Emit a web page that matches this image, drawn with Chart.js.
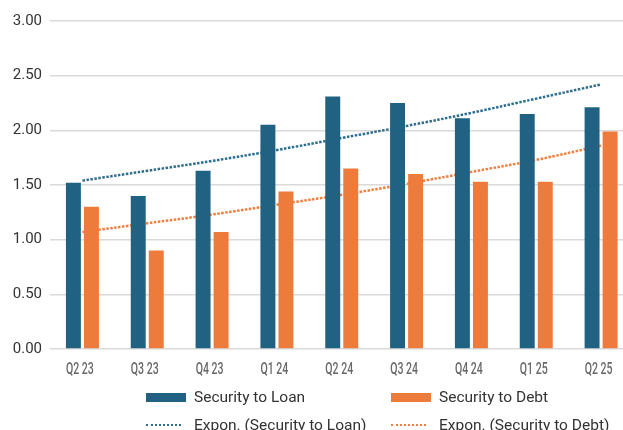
<!DOCTYPE html>
<html>
<head>
<meta charset="utf-8">
<script src="https://cdn.jsdelivr.net/npm/chart.js@4/dist/chart.umd.min.js"></script>
<style>
  html, body { margin: 0; padding: 0; background: #ffffff; overflow: hidden; }
  #wrap { position: absolute; left: 0; top: 0; width: 640px; height: 430px; }
  .legend { position: absolute; font-family: Roboto, "Noto Sans", sans-serif; font-size: 15.5px; color: #333333; }
  .item { position: absolute; display: flex; align-items: center; white-space: nowrap; height: 20px; }
  .box { display: inline-block; width: 40px; height: 9px; margin-right: 8px; }
  .dots { display: inline-block; width: 35px; height: 0; border-top: 2px dotted; margin-right: 13px; }
</style>
</head>
<body>
<div id="wrap"><canvas id="chart"></canvas></div>
<div class="legend" id="legend"></div>
<script>
// Quarter labels along the x axis
const categories = ['Q2 23', 'Q3 23', 'Q4 23', 'Q1 24', 'Q2 24', 'Q3 24', 'Q4 24', 'Q1 25', 'Q2 25'];

// Coverage ratios per quarter
const securityToLoan = [1.52, 1.40, 1.63, 2.05, 2.31, 2.25, 2.11, 2.15, 2.21];
const securityToDebt = [1.30, 0.90, 1.07, 1.44, 1.65, 1.60, 1.53, 1.53, 1.99];

// Exponential trend values per quarter
const loanTrend = [1.54, 1.63, 1.72, 1.82, 1.93, 2.04, 2.16, 2.29, 2.42];
const debtTrend = [1.07, 1.15, 1.23, 1.32, 1.41, 1.51, 1.62, 1.73, 1.86];

// Series names
const seriesNames = ['Security to Loan', 'Security to Debt', 'Expon. (Security to Loan)', 'Expon. (Security to Debt)'];

const BLUE = '#216283';
const ORANGE = '#ed7b3c';
const BLUE_TREND = '#2d6e8f';
const ORANGE_TREND = '#f07f3f';

// Condensed quarter labels under the bars
const condensedLabels = {
  id: 'condensedLabels',
  afterDraw(chart) {
    const ctx = chart.ctx;
    const xs = chart.scales.x;
    ctx.save();
    ctx.fillStyle = '#686868';
    ctx.font = '500 17px Roboto, "Noto Sans", sans-serif';
    ctx.textAlign = 'center';
    ctx.textBaseline = 'middle';
    categories.forEach((lab, i) => {
      ctx.save();
      ctx.translate(xs.getPixelForTick(i) - 2.5, xs.top + 21);
      ctx.scale(0.62, 1);
      ctx.fillText(lab, 0, 0);
      ctx.restore();
    });
    ctx.restore();
  }
};

new Chart(document.getElementById('chart'), {
  type: 'bar',
  data: {
    labels: categories,
    datasets: [
      { label: seriesNames[0], data: securityToLoan, backgroundColor: BLUE, order: 0,
        categoryPercentage: 0.556, barPercentage: 0.83 },
      { label: seriesNames[1], data: securityToDebt, backgroundColor: ORANGE, order: 0,
        categoryPercentage: 0.556, barPercentage: 0.83 },
      { type: 'line', label: seriesNames[2], data: loanTrend, borderColor: BLUE_TREND,
        borderWidth: 2.5, borderDash: [2.5, 1.5], pointRadius: 0, tension: 0.4, fill: false, order: 1 },
      { type: 'line', label: seriesNames[3], data: debtTrend, borderColor: ORANGE_TREND,
        borderWidth: 2.5, borderDash: [2.5, 1.5], pointRadius: 0, tension: 0.4, fill: false, order: 1 }
    ]
  },
  options: {
    responsive: true,
    maintainAspectRatio: false,
    animation: false,
    layout: { padding: { left: 0, right: 6.5, top: 21, bottom: 0 } },
    plugins: { legend: { display: false }, tooltip: { enabled: false } },
    scales: {
      x: {
        grid: { display: false, drawTicks: false },
        border: { display: false },
        ticks: { display: false },
        afterFit: s => { s.height = 81; }
      },
      y: {
        min: 0, max: 3,
        grid: { color: '#dadada', lineWidth: 1.5, drawTicks: false },
        border: { display: false },
        ticks: {
          stepSize: 0.5,
          color: '#333333',
          padding: 8,
          font: { family: 'Roboto, "Noto Sans", sans-serif', size: 15 },
          callback: v => Number(v).toFixed(2)
        },
        afterFit: s => { s.width = 50; }
      }
    }
  },
  plugins: [condensedLabels]
});

// Two-column legend below the axis
const legendItems = [
  { text: seriesNames[0], kind: 'box', color: BLUE, x: 146, y: 387 },
  { text: seriesNames[1], kind: 'box', color: ORANGE, x: 391, y: 387 },
  { text: seriesNames[2], kind: 'dots', color: BLUE_TREND, x: 146, y: 415 },
  { text: seriesNames[3], kind: 'dots', color: ORANGE_TREND, x: 391, y: 415 }
];
const legend = document.getElementById('legend');
legendItems.forEach(it => {
  const row = document.createElement('div');
  row.className = 'item';
  row.style.left = it.x + 'px';
  row.style.top = it.y + 'px';
  const sw = document.createElement('span');
  sw.className = it.kind;
  if (it.kind === 'box') sw.style.background = it.color; else sw.style.borderTopColor = it.color;
  const label = document.createElement('span');
  label.textContent = it.text;
  row.appendChild(sw);
  row.appendChild(label);
  legend.appendChild(row);
});
</script>
</body>
</html>
